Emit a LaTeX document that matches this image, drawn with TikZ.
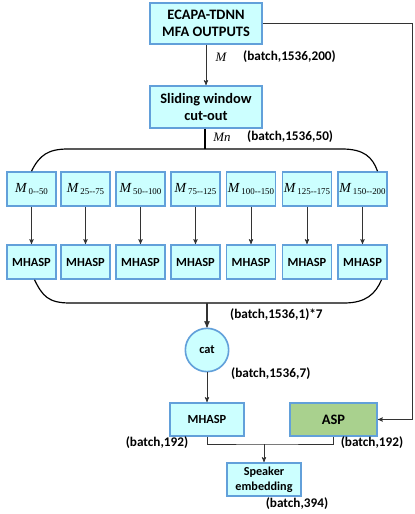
\documentclass[tikz,border=0pt]{standalone}
\usepackage{fontspec}
\setmainfont{Carlito}
\newfontfamily\serifm{Liberation Serif}
\usetikzlibrary{arrows,positioning,calc,shapes}
\definecolor{boxfill}{RGB}{204,255,255}
\definecolor{boxline}{RGB}{98,160,218}
\definecolor{aspfill}{RGB}{169,209,142}
\newcommand\bigfont{\bfseries\fontsize{12.3}{14}\selectfont}
\newcommand\midfont{\bfseries\fontsize{10.6}{13}\selectfont}
\newcommand\lblfont{\bfseries\fontsize{11.3}{13}\selectfont}
\tikzset{
    %Define standard arrow tip
    >=stealth',
    % Define block styles
    blk/.style={
           draw=boxline,
           line width=1.4pt,
           fill=boxfill,
           align=center,
           inner sep=1pt,
           font=\midfont},
    mbox/.style={blk, minimum width=1.47cm, minimum height=1.02cm},
    lbl/.style={font=\lblfont},
    % Define arrow style
    pil/.style={
           ->,
           black!80,
           semithick},
    brace/.style={
           line width=1pt}
}
\newcommand\Mwin[1]{\mdseries{\serifm\itshape\fontsize{11.8}{12}\selectfont M}\,\raisebox{-0.4ex}{\serifm\fontsize{7.6}{8}\selectfont #1}}

\begin{document}
\begin{tikzpicture}[x=0.03cm,y=-0.03cm]
\useasboundingbox (0,0) rectangle (414,514);

% top part
\node[blk, minimum width=3.36cm, minimum height=1.23cm, font=\bigfont] (ecapa) at (206,23.5) {ECAPA-TDNN\\MFA OUTPUTS};
\node[blk, minimum width=3.36cm, minimum height=1.26cm, font=\bigfont] (slide) at (206,107) {Sliding window\\cut-out};
\draw[pil] (ecapa) -- (slide);
\node (m) at (221,57) {\serifm\itshape\fontsize{11}{12}\selectfont M};
\node[lbl, anchor=west] (d200) at (239,57) {(batch,1536,200)};

% windows
\node[mbox] (m1) at (31.5,189) {\Mwin{0--50}};
\node[mbox] (m2) at (85.5,189) {\Mwin{25--75}};
\node[mbox] (m3) at (140.5,189) {\Mwin{50--100}};
\node[mbox] (m4) at (195.5,189) {\Mwin{75--125}};
\node[mbox] (m5) at (251,189) {\Mwin{100--150}};
\node[mbox] (m6) at (307,189) {\Mwin{125--175}};
\node[mbox] (m7) at (362.5,189) {\Mwin{150--200}};

\node[mbox] (h1) at (31.5,262) {MHASP};
\node[mbox] (h2) at (85.5,262) {MHASP};
\node[mbox] (h3) at (140.5,262) {MHASP};
\node[mbox] (h4) at (195.5,262) {MHASP};
\node[mbox] (h5) at (251,262) {MHASP};
\node[mbox] (h6) at (307,262) {MHASP};
\node[mbox] (h7) at (362.5,262) {MHASP};

\draw[pil] (m1) -- (h1);
\draw[pil] (m2) -- (h2);
\draw[pil] (m3) -- (h3);
\draw[pil] (m4) -- (h4);
\draw[pil] (m5) -- (h5);
\draw[pil] (m6) -- (h6);
\draw[pil] (m7) -- (h7);

% split brace
\coordinate (split) at (205,149);
\draw[line width=1.6pt] (slide.south -| split) -- (split);
\node (mn) at (222,137) {\serifm\itshape\fontsize{11}{12}\selectfont Mn};
\node[lbl, anchor=west] (d50) at (243,137) {(batch,1536,50)};
\draw[brace] (m1.north) .. controls +(8,-16) and +(-20,0) .. (68,149) -- (342,149)
    .. controls +(22,0) and +(-5,-14) .. ($(m7.north)+(15,0)$);

% join brace
\coordinate (join) at (207,303);
\draw[brace] ($(h1.south)+(3,0)$) .. controls +(8,16) and +(-22,0) .. (70,303) -- (344,303)
    .. controls +(22,0) and +(-6,14) .. ($(h7.south)+(19,0)$);
\node[lbl, anchor=west] (d17) at (226,315) {(batch,1536,1)*7};

\node[blk, circle, minimum size=1.3cm] (cat) at (207,350) {cat};
\draw[pil, line width=1pt] (join) -- (cat);
\node[lbl, anchor=west] (d7) at (227,374) {(batch,1536,7)};

% bottom part
\node[blk, minimum width=2.22cm, minimum height=0.99cm] (mh) at (207,419.5) {MHASP};
\node[blk, fill=aspfill, minimum width=2.61cm, minimum height=0.99cm, font=\bigfont] (asp) at (333.5,419.5) {ASP};
\node[blk, minimum width=2.22cm, minimum height=0.99cm, font=\bfseries\fontsize{10.4}{12.6}\selectfont] (spk) at (264,479.5) {Speaker\\embedding};
\draw[pil] (cat) -- (mh);

\coordinate (fb) at (412,419.5);
\draw[pil] (ecapa.east) -| (fb) -- (asp.east);

\coordinate (merge) at (264,444);
\draw[black!80, semithick] (mh.south) |- (merge) -| (asp.south);
\draw[pil] (merge) -- (spk);

\node[lbl] (d192a) at (157,443) {(batch,192)};
\node[lbl] (d192b) at (372,443) {(batch,192)};
\node[lbl] (d394) at (297,504) {(batch,394)};

\end{tikzpicture}
\end{document}
